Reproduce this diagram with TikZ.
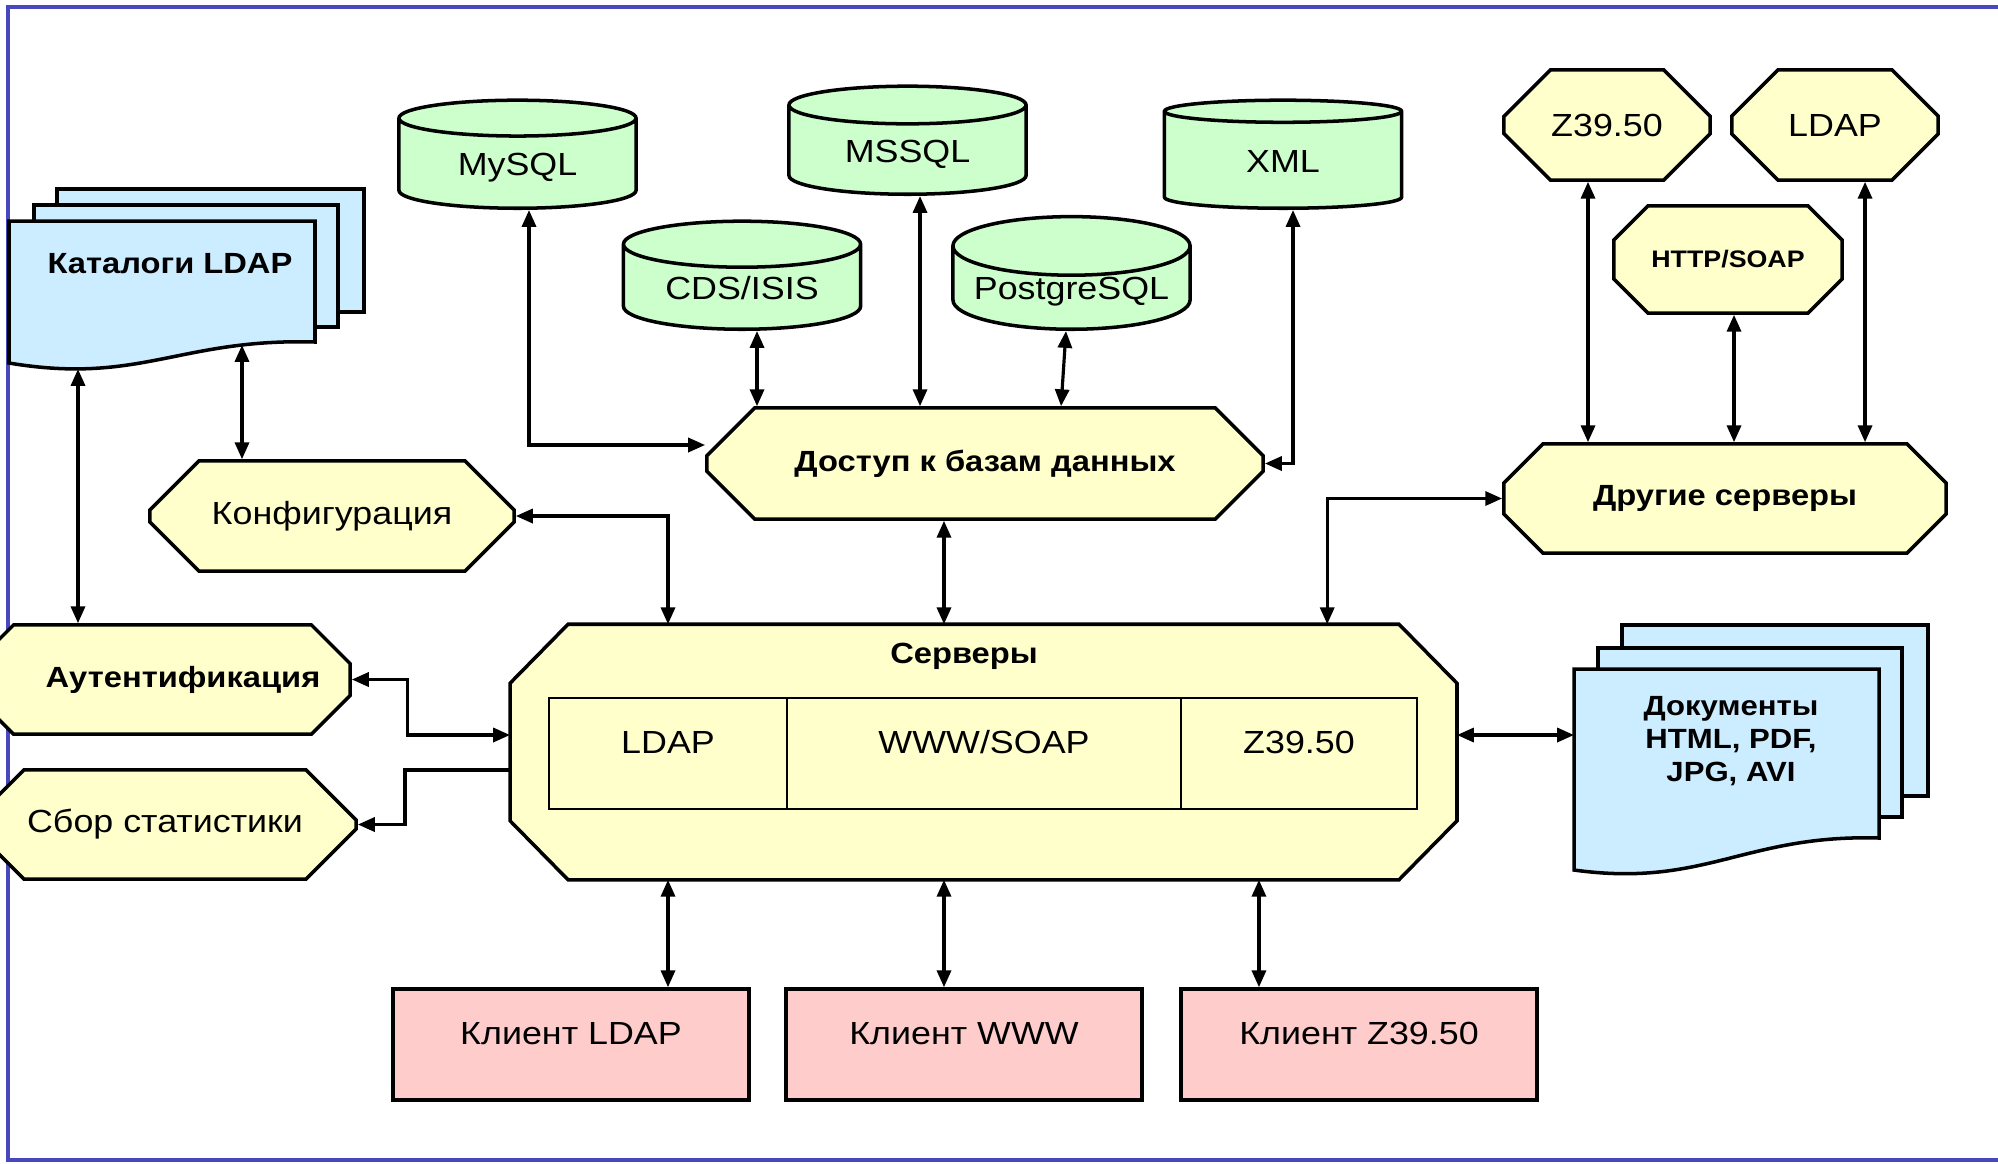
\documentclass[tikz,border=0pt]{standalone}
\usepackage{fontspec}
\setmainfont{Liberation Sans}[FakeStretch=1.12]
\usetikzlibrary{arrows.meta, shapes.misc, shapes.geometric}

\definecolor{srvyellow}{RGB}{255,255,204}
\definecolor{dbgreen}{RGB}{204,255,204}
\definecolor{clientpink}{RGB}{255,204,204}
\definecolor{pageblue}{RGB}{204,236,255}
\definecolor{frameblue}{RGB}{72,72,190}

\tikzset{
  txt/.style={font=\fontsize{9.1}{10.5}\selectfont},
  txtb/.style={font=\fontsize{8.3}{9.5}\selectfont\bfseries},
  octa/.style={chamfered rectangle, chamfered rectangle xsep=#1, chamfered rectangle ysep=#1,
    draw, line width=1pt, fill=srvyellow, inner sep=0pt},
  db/.style={cylinder, shape border rotate=90, aspect=0.3, draw, line width=1pt,
    fill=dbgreen, minimum width=2.37cm, minimum height=1.08cm, inner sep=0pt,
    text height=0.23cm, text depth=0cm, anchor=south, txt},
  client/.style={draw, line width=1pt, fill=clientpink, minimum width=3.56cm,
    minimum height=1.11cm, text height=0.3cm, text depth=0.3cm, inner sep=0pt, txt},
  proto/.style={draw, line width=0.7pt, minimum height=1.11cm, text height=0.3cm,
    text depth=0.3cm, inner sep=0pt, txt},
  page/.style={draw, line width=1pt, fill=pageblue},
  link/.style={line width=0.9pt, {Triangle[length=4.8pt,width=4pt]}-{Triangle[length=4.8pt,width=4pt]}},
  tolink/.style={line width=0.9pt, -{Triangle[length=4.8pt,width=4pt]}},
}

\begin{document}
\begin{tikzpicture}[x=0.01cm, y=0.01cm]
\useasboundingbox (0,0) rectangle (1998,-1163);
\fill[white] (0,0) rectangle (1998,-1163);
\draw[frameblue, line width=1.2pt] (1998,-7) -- (8,-7) -- (8,-1160) -- (1998,-1160);

% catalogs LDAP
\draw[page] (57,-189) rectangle (364,-312);
\draw[page] (34,-205) rectangle (338,-327);
\draw[page] (9,-221) -- (315,-221) -- (315,-342) .. controls (180,-338) and (140,-385) .. (9,-363) -- cycle;
\node[txtb] (catalog) at (170,-264) {Каталоги LDAP};
\coordinate (catA) at (78,-369);
\coordinate (catB) at (242,-345);

% documents
\draw[page] (1622,-625) rectangle (1928,-796);
\draw[page] (1598,-648) rectangle (1902,-817);
\draw[page] (1574,-669) -- (1879,-669) -- (1879,-838) .. controls (1745,-834) and (1705,-888) .. (1574,-870) -- cycle;
\node[align=center, font=\fontsize{7.9}{9.4}\selectfont\bfseries] (docs) at (1731,-741) {Документы\\HTML, PDF,\\JPG, AVI};
\coordinate (docin) at (1574,-735);

% databases
\node[db] (mysql) at (517.5,-210) {MySQL};
\node[db] (mssql) at (907.5,-196) {MSSQL};
\node[db] (xml) at (1283,-210) {XML};
\node[db] (cds) at (742,-331) {CDS/ISIS};
\node[db] (postgres) at (1071.5,-331) {PostgreSQL};

% yellow boxes
\node[octa=0.34cm, txt, minimum width=3.64cm, minimum height=1.10cm] (conf) at (332,-516) {Конфигурация};
\node[octa=0.34cm, txtb, minimum width=5.56cm, minimum height=1.11cm] (access) at (985,-463.5) {Доступ к базам данных};
\node[octa=0.35cm, txt, minimum width=2.06cm, minimum height=1.10cm] (zsrv) at (1607,-125) {Z39.50};
\node[octa=0.35cm, txt, minimum width=2.06cm, minimum height=1.10cm] (ldapsrv) at (1835,-125) {LDAP};
\node[octa=0.25cm, font=\fontsize{6.8}{8}\selectfont\bfseries, minimum width=2.28cm, minimum height=1.07cm] (http) at (1728,-259.5) {HTTP/SOAP};
\node[octa=0.26cm, txtb, minimum width=4.42cm, minimum height=1.09cm] (others) at (1725,-498.5) {Другие серверы};
\node[octa=0.25cm, txtb, minimum width=3.75cm, minimum height=1.09cm] (auth) at (162.5,-679.5) {\hspace*{0.41cm}Аутентификация};
\node[octa=0.35cm, txt, minimum width=3.82cm, minimum height=1.09cm] (stat) at (165,-824.5) {Сбор статистики};

% servers
\node[minimum width=9.45cm, minimum height=2.54cm, inner sep=0pt] (srv) at (983.5,-752) {};
\draw[fill=srvyellow, line width=1pt] ([xshift=0.58cm]srv.north west) -- ([xshift=-0.58cm]srv.north east)
  -- ([yshift=-0.59cm]srv.north east) -- ([yshift=0.59cm]srv.south east) -- ([xshift=-0.58cm]srv.south east)
  -- ([xshift=0.58cm]srv.south west) -- ([yshift=0.59cm]srv.south west) -- ([yshift=-0.59cm]srv.north west) -- cycle;
\node[txtb] (srvtitle) at (964,-656) {Серверы};
\node[proto, minimum width=2.38cm] (pldap) at (668,-753.5) {LDAP};
\node[proto, minimum width=3.94cm] (pwww) at (984,-753.5) {WWW/SOAP};
\node[proto, minimum width=2.36cm] (pz) at (1299,-753.5) {Z39.50};

% clients
\node[client] (cldap) at (571,-1044.5) {Клиент LDAP};
\node[client] (cwww) at (964,-1044.5) {Клиент WWW};
\node[client] (cz) at (1359,-1044.5) {Клиент Z39.50};

% connectors
\draw[link] ([xshift=0.115cm]mysql.south) |- ([yshift=0.185cm]access.west);
\draw[link] ([xshift=0.15cm]cds.south) -- ([xshift=0.15cm]cds.south |- access.north);
\draw[link] ([xshift=0.125cm]mssql.south) -- ([xshift=0.125cm]mssql.south |- access.north);
\draw[link] ([xshift=-0.055cm]postgres.south) -- ([xshift=0.76cm]access.north);
\draw[link] ([xshift=0.1cm]xml.south) |- (access.east);
\draw[link] ([xshift=-0.41cm]access.south) -- ([xshift=-0.41cm]access.south |- srv.north);
\draw[link] (conf.east) -| (pldap |- srv.north);
\draw[link] (catB) -- (catB |- conf.north);
\draw[link] (catA) -- (catA |- auth.north);
\draw[link] (auth.east) -- ++(56,0) |- ([yshift=0.17cm]srv.west);
\draw[tolink] ([yshift=-0.18cm]srv.west) -- ++(-105,0) |- (stat.east);
\draw[link] (pldap |- srv.south) -- (pldap |- cldap.north);
\draw[link] ([xshift=-0.2cm]cwww.north |- srv.south) -- ([xshift=-0.2cm]cwww.north);
\draw[link] ([xshift=-1cm]cz.north |- srv.south) -- ([xshift=-1cm]cz.north);
\draw[link] (srv.east |- docin) -- (docin);
\draw[link] ([xshift=3.435cm]srv.north) |- (others.west);
\draw[link] ([xshift=-0.19cm]zsrv.south) -- ([xshift=-0.19cm]zsrv.south |- others.north);
\draw[link] ([xshift=0.06cm]http.south) -- ([xshift=0.06cm]http.south |- others.north);
\draw[link] ([xshift=0.3cm]ldapsrv.south) -- ([xshift=0.3cm]ldapsrv.south |- others.north);
\end{tikzpicture}
\end{document}
